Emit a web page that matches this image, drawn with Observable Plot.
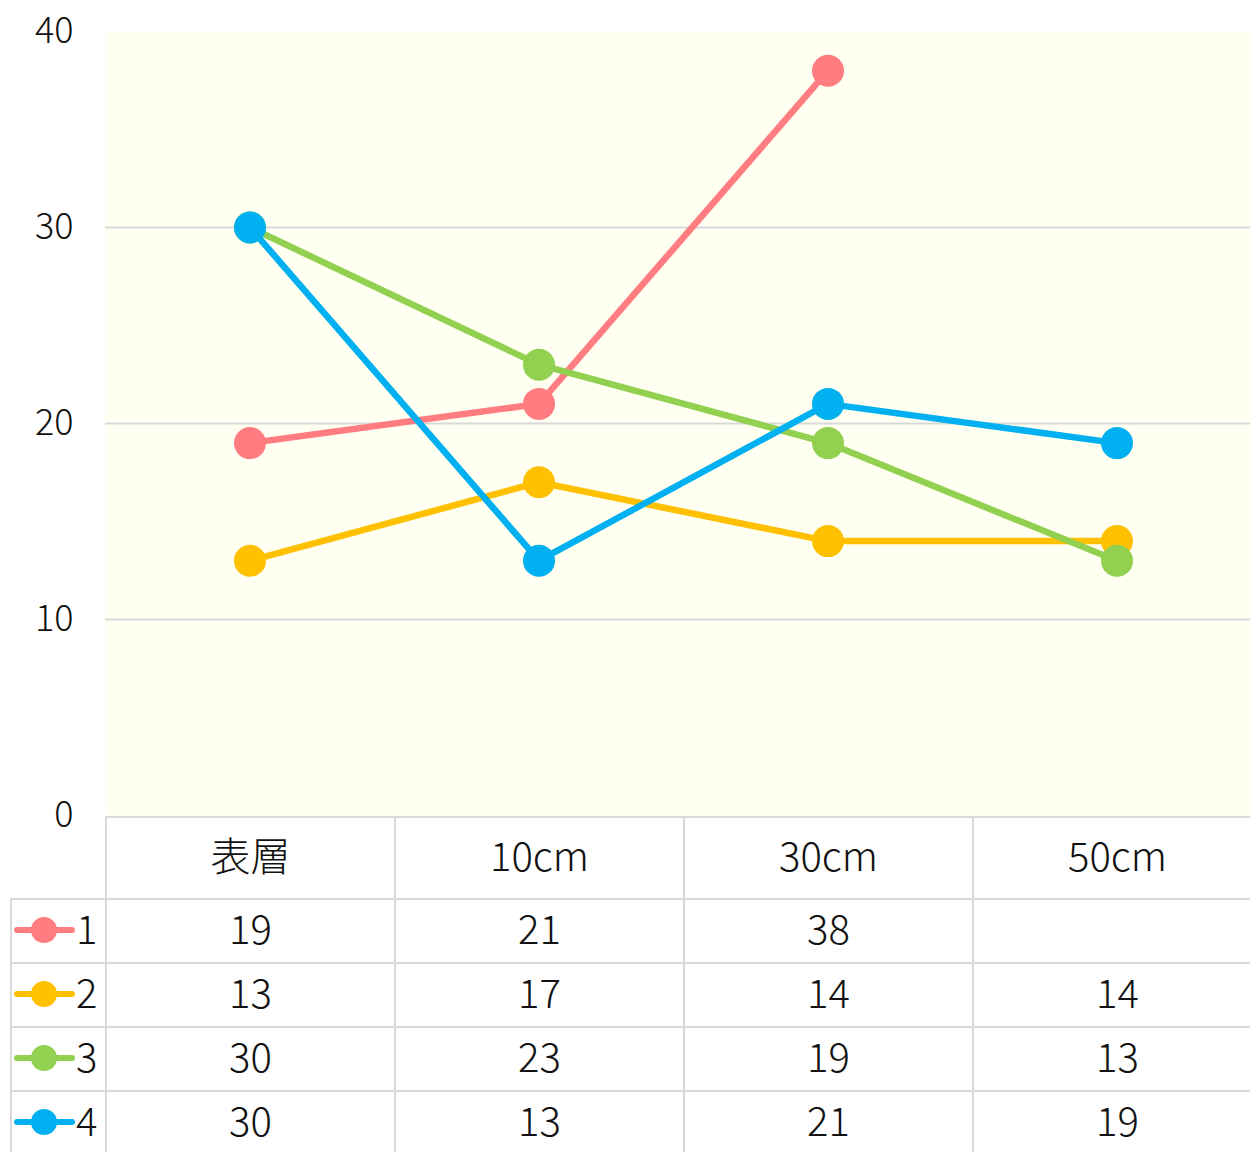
<!DOCTYPE html>
<html><head><meta charset="utf-8">
<script src="https://cdn.jsdelivr.net/npm/d3@7"></script>
<script src="https://cdn.jsdelivr.net/npm/@observablehq/plot@0.6"></script>
<style>
html,body{margin:0;padding:0;background:#fff;overflow:hidden;width:1250px;height:1152px;}
#chart svg{display:block;overflow:visible;}
body{font-family:"Noto Sans CJK JP","Noto Sans",sans-serif;color:#111;font-weight:300;}
table{border-collapse:collapse;table-layout:fixed;margin-left:10px;font-size:40px;line-height:1;}
td{border:2px solid #d9d9d9;padding:0 0 8px 0;text-align:center;vertical-align:middle;white-space:nowrap;overflow:hidden;}
tr.head td{height:72px;}
tr.row td{height:54px;}
td.blank{border-left:none;border-top:none;}
td.leg{text-align:left;}
td.leg svg{vertical-align:middle;}
td.leg span{vertical-align:middle;position:relative;top:-3px;}
</style></head>
<body>
<div id="chart"></div>
<div id="tbl"></div>
<script>
const categories = ["表層", "10cm", "30cm", "50cm"];
const seriesNames = ["1", "2", "3", "4"];
const series1 = [19, 21, 38, null];
const series2 = [13, 17, 14, 14];
const series3 = [30, 23, 19, 13];
const series4 = [30, 13, 21, 19];
const seriesColors = ["#ff7c80", "#ffc000", "#92d050", "#00b0f0"];
const yTicks = [0, 10, 20, 30, 40];
const gridValues = [10, 20, 30];

const allSeries = [series1, series2, series3, series4];
const data = allSeries.flatMap((vals, i) =>
  vals.map((v, j) => ({series: seriesNames[i], cat: categories[j], value: v}))
);

const seriesMarks = seriesNames.flatMap((s, i) => {
  const d = data.filter(r => r.series === s && r.value != null);
  return [
    Plot.line(d, {x: "cat", y: "value", stroke: seriesColors[i], strokeWidth: 6.5, strokeLinecap: "round", strokeLinejoin: "round"}),
    Plot.dot(d, {x: "cat", y: "value", r: 16, fill: seriesColors[i], stroke: "none"})
  ];
});

const chart = Plot.plot({
  width: 1250, height: 816,
  marginTop: 31, marginBottom: 1, marginLeft: 105, marginRight: 0,
  style: {fontFamily: '"Noto Sans CJK JP","Noto Sans",sans-serif', color: "#111", background: "#fff", overflow: "visible"},
  x: {type: "band", domain: categories, range: [105, 1261], padding: 0, axis: null},
  y: {domain: [0, 40], axis: null},
  marks: [
    Plot.frame({fill: "#fffff2", stroke: "none"}),
    Plot.gridY(gridValues, {stroke: "#d9d9d9", strokeWidth: 2, strokeOpacity: 1}),
    Plot.axisY(yTicks, {tickSize: 0, tickPadding: 32, fontSize: 36, fill: "#111", fontWeight: 300, label: null}),
    ...seriesMarks
  ]
});
chart.style.overflow = "visible";
document.getElementById("chart").appendChild(chart);

// data table aligned with the x band scale
const xs = chart.scale("x");
const bw = xs.bandwidth;
const firstCol = xs.range[0] - 10;
const table = document.createElement("table");
const cg = document.createElement("colgroup");
[firstCol, ...categories.map(() => bw)].forEach(w => {
  const c = document.createElement("col"); c.style.width = w + "px"; cg.appendChild(c);
});
table.appendChild(cg);
table.style.width = (firstCol + bw * categories.length) + "px";
const head = document.createElement("tr"); head.className = "head";
const blank = document.createElement("td"); blank.className = "blank"; head.appendChild(blank);
categories.forEach(c => { const td = document.createElement("td"); td.textContent = c; head.appendChild(td); });
table.appendChild(head);
allSeries.forEach((vals, i) => {
  const tr = document.createElement("tr"); tr.className = "row";
  const lg = document.createElement("td"); lg.className = "leg";
  const ns = "http://www.w3.org/2000/svg";
  const sw = document.createElementNS(ns, "svg");
  sw.setAttribute("width", 64); sw.setAttribute("height", 30);
  const ln = document.createElementNS(ns, "line");
  ln.setAttribute("x1", 5); ln.setAttribute("x2", 60); ln.setAttribute("y1", 15); ln.setAttribute("y2", 15);
  ln.setAttribute("stroke", seriesColors[i]); ln.setAttribute("stroke-width", 6); ln.setAttribute("stroke-linecap", "round");
  const ci = document.createElementNS(ns, "circle");
  ci.setAttribute("cx", 32); ci.setAttribute("cy", 15); ci.setAttribute("r", 13); ci.setAttribute("fill", seriesColors[i]);
  sw.appendChild(ln); sw.appendChild(ci);
  lg.appendChild(sw);
  const lab = document.createElement("span"); lab.textContent = seriesNames[i];
  lg.appendChild(lab);
  tr.appendChild(lg);
  vals.forEach(v => { const td = document.createElement("td"); td.textContent = v == null ? "" : v; tr.appendChild(td); });
  table.appendChild(tr);
});
document.getElementById("tbl").appendChild(table);
</script>
</body></html>
